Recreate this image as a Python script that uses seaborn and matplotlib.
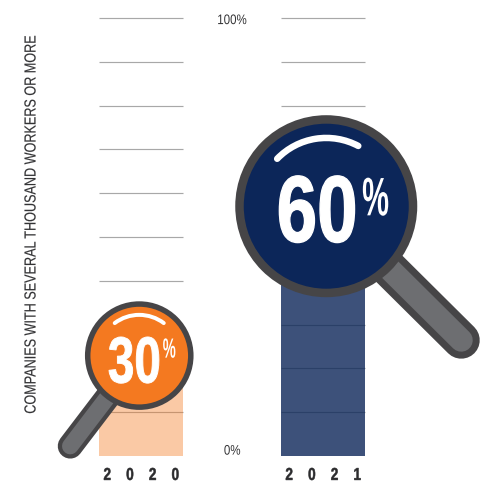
import matplotlib
matplotlib.use("Agg")
import matplotlib.pyplot as plt
from matplotlib.patches import Arc, Circle, PathPatch
from matplotlib.text import Text
from matplotlib.textpath import TextPath
from matplotlib.transforms import Affine2D, IdentityTransform
import pandas as pd
import seaborn as sns

years = ["2020", "2021"]
shares = [30, 60]
grid_levels = [10, 20, 30, 40, 50, 60, 70, 80, 90, 100]
axis_labels = ["0%", "100%"]
y_title = "COMPANIES WITH SEVERAL THOUSAND WORKERS OR MORE"

bar_fill = {"2020": "#F47920", "2021": "#0C2659"}
RIM = "#464547"
HANDLE = "#6D6E71"
INK = "#333335"
FAMILY = "Liberation Sans"

# Per-lens layout, in pixels relative to the top of its bar or to the lens centre.
lens_layout = [
    dict(dx=-2, dy=31, radius=54.3, rim=5.5, tip=(-69, 90.5), grip=25, grip_fill=16.5,
         size=47, squeeze=0.73, num=(-5.3, 4.5), pct_size=20, pct_squeeze=0.53, pct=(30, -7.5),
         arc=(-127, -53), arc_w=4, heavy=0.9),
    dict(dx=3, dy=13, radius=91, rim=8.5, tip=(135, 134), grip=37, grip_fill=23,
         size=68, squeeze=0.77, num=(-9.3, 3), pct_size=39, pct_squeeze=0.56, pct=(49.3, -9.5),
         arc=(-136, -62), arc_w=6.5, heavy=1.3),
]


class CondensedText(Text):
    """Text set in a horizontally condensed cut of its font, anchored on its glyph box."""

    def __init__(self, x, y, text, squeeze=1.0, heavy=0.0, **kwargs):
        super().__init__(x, y, text, **kwargs)
        self._squeeze = squeeze
        self._heavy = heavy

    def _outline(self):
        dpi = self.get_figure().dpi
        path = TextPath((0, 0), self.get_text(), size=self.get_fontsize(),
                        prop=self.get_fontproperties())
        box = path.get_extents()
        anchor = self.get_transform().transform(self.get_unitless_position())
        to_display = (Affine2D()
                      .translate(-(box.x0 + box.x1) / 2, -(box.y0 + box.y1) / 2)
                      .scale(self._squeeze * dpi / 72, dpi / 72)
                      .rotate_deg(self.get_rotation())
                      .translate(*anchor))
        return path.transformed(to_display)

    def get_window_extent(self, renderer=None, dpi=None):
        return self._outline().get_extents()

    def draw(self, renderer):
        if not self.get_visible():
            return
        patch = PathPatch(self._outline(), facecolor=self.get_color(),
                          edgecolor=self.get_color() if self._heavy else "none",
                          lw=self._heavy * 72 / 100, transform=IdentityTransform())
        patch.set_figure(self.get_figure())
        patch.draw(renderer)


sns.set_theme(style="white")
W, H = 486, 482
fig = plt.figure(figsize=(W / 100, H / 100), dpi=100, facecolor="white")
ax = fig.add_axes([0, 0, 1, 1])

df = pd.DataFrame({"year": years, "share": shares})
sns.barplot(data=df, x="year", y="share", hue="year", palette=bar_fill, order=years,
            width=0.459, saturation=1, legend=False, ax=ax, zorder=3)

# One category step spans 182 px, ten percent spans 43.8 px.
step = 182.0
per_unit = 4.38
ax.set_xlim(-141.25 / step, (W - 141.25) / step)
ax.set_ylim(-26 / per_unit, (H - 26) / per_unit)
for patch, year in zip(ax.patches, years):
    patch.set_alpha(0.8 if year == "2021" else 0.4)
    patch.set_edgecolor("none")

half = 0.459 / 2
for pos in range(len(years)):
    ax.hlines(grid_levels, pos - half, pos + half, color="#A8A8A8", lw=0.85, zorder=2)

for spine in ax.spines.values():
    spine.set_visible(False)
ax.set_xlabel("")
ax.set_ylabel("")
ax.set_xticks([])
ax.set_yticks([])


def add_label(axes, x, y, text, size, squeeze, color=INK, weight="normal", rotation=0,
              transform=None, heavy=0.0, zorder=5):
    label = CondensedText(x, y, text, squeeze=squeeze, heavy=heavy, fontsize=size, color=color,
                          family=FAMILY, weight=weight, rotation=rotation, zorder=zorder)
    if transform is not None:
        label.set_transform(transform)
    axes.add_artist(label)
    return label


add_label(ax, 0.5, 99.7, axis_labels[1], 10, 0.83)
add_label(ax, 0.5, 1.4, axis_labels[0], 10, 0.83)
add_label(ax, 30 / W, 1 - 224.5 / H, y_title, 11.5, 0.79, rotation=90, transform=ax.transAxes,
          heavy=0.15)
for pos, year in enumerate(years):
    add_label(ax, pos, -18 / per_unit, "    ".join(year), 12.4, 0.79, color="#2B2B2D",
              weight="bold", heavy=0.5)

# Pixel-space overlay carrying the magnifying glasses.
top = fig.add_axes([0, 0, 1, 1], facecolor="none")
top.set_xlim(0, W)
top.set_ylim(H, 0)
top.axis("off")
px = 72 / 100

for pos, (year, share, lay) in enumerate(zip(years, shares, lens_layout)):
    bx, by = ax.transData.transform((pos, share))
    cx, cy = bx + lay["dx"], H - by + lay["dy"]
    ex, ey = cx + lay["tip"][0], cy + lay["tip"][1]
    top.plot([cx, ex], [cy, ey], color=RIM, lw=lay["grip"] * px, solid_capstyle="round", zorder=1)
    top.plot([cx, ex], [cy, ey], color=HANDLE, lw=lay["grip_fill"] * px, solid_capstyle="round", zorder=2)
    r = lay["radius"]
    top.add_patch(Circle((cx, cy), r - lay["rim"] / 2, facecolor=bar_fill[year], edgecolor=RIM,
                         lw=lay["rim"] * px, zorder=3))
    glare = 2 * r * 0.75
    top.add_patch(Arc((cx, cy), glare, glare, theta1=lay["arc"][0], theta2=lay["arc"][1],
                      color="white", lw=lay["arc_w"] * px, capstyle="round", zorder=4))
    add_label(top, cx + lay["num"][0], cy + lay["num"][1], f"{share}", lay["size"], lay["squeeze"],
              color="white", weight="bold", heavy=lay["heavy"])
    add_label(top, cx + lay["pct"][0], cy + lay["pct"][1], "%", lay["pct_size"], lay["pct_squeeze"],
              color="white", weight="bold")

fig.savefig("out.png", dpi=100, facecolor="white")
